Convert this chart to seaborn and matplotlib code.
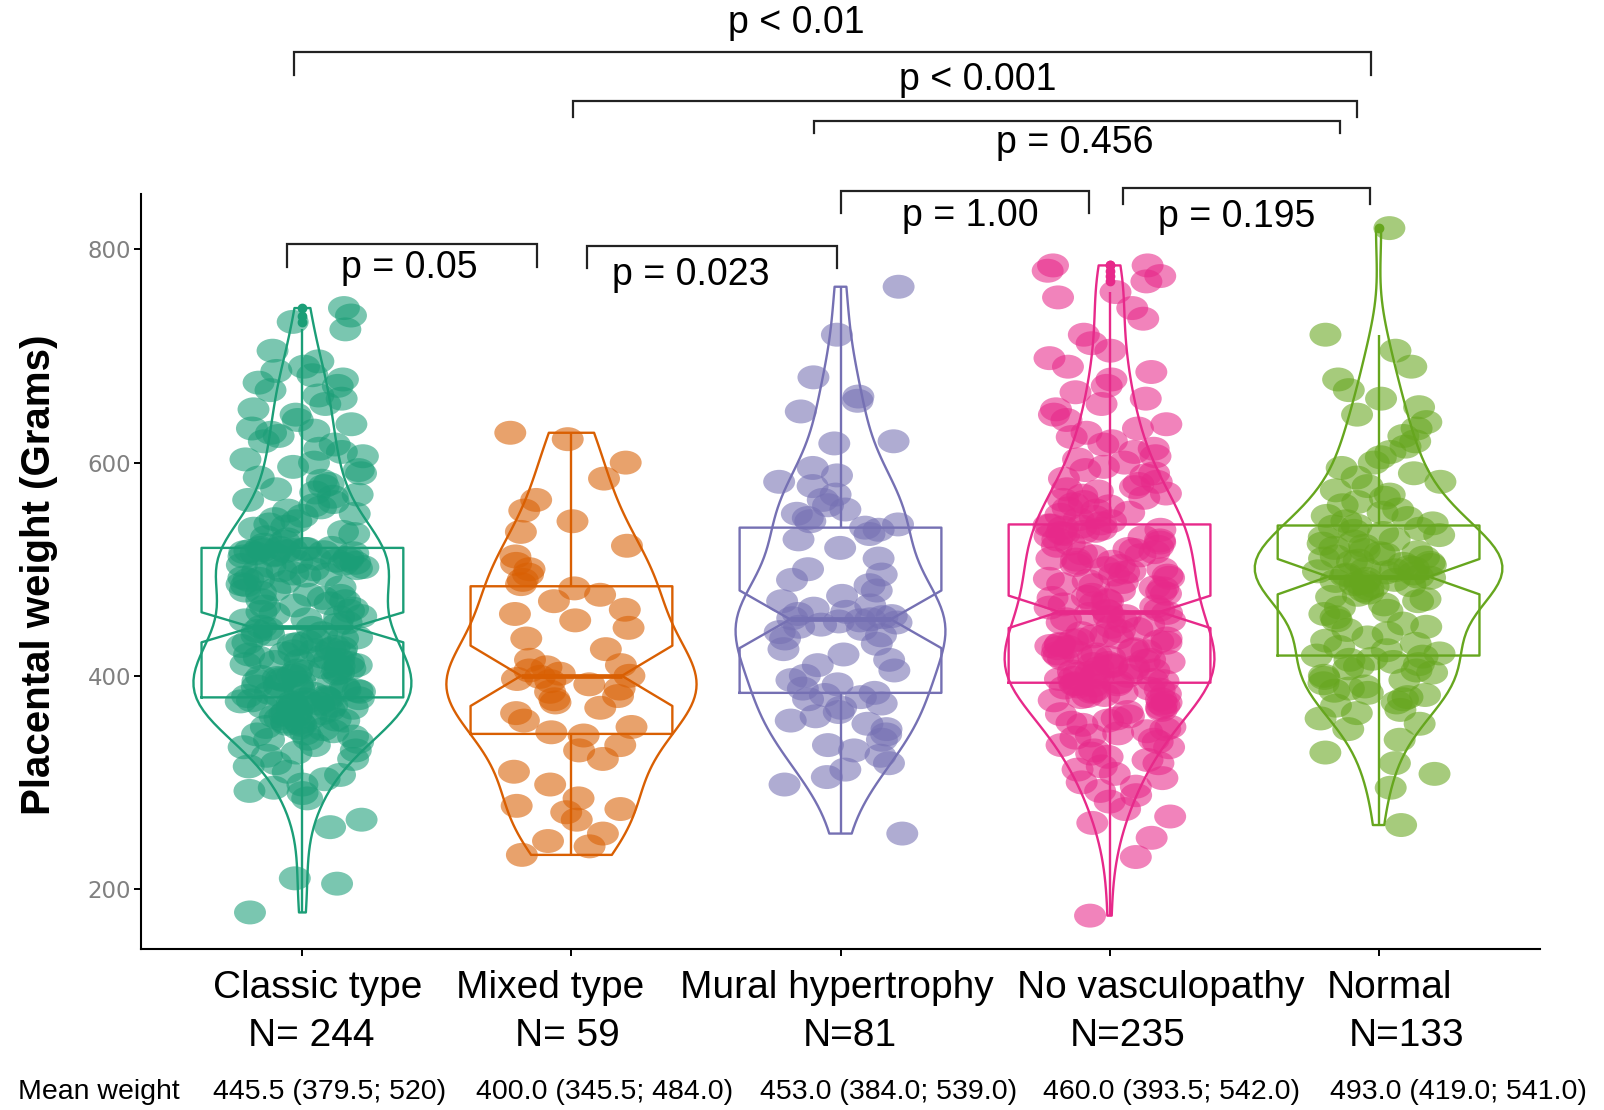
import numpy as np
import pandas as pd
import matplotlib
matplotlib.use("Agg")
import matplotlib.pyplot as plt
import seaborn as sns
from matplotlib.markers import MarkerStyle
from matplotlib.transforms import Affine2D

# ---------------- data ----------------
categories = ["Classic type", "Mixed type", "Mural hypertrophy", "No vasculopathy", "Normal"]
n_labels = ["N= 244", "N= 59", "N=81", "N=235", "N=133"]
mean_title = "Mean weight"
mean_labels = ["445.5 (379.5; 520)", "400.0 (345.5; 484.0)", "453.0 (384.0; 539.0)",
               "460.0 (393.5; 542.0)", "493.0 (419.0; 541.0)"]
palette = ["#1B9E77", "#D95F02", "#7570B3", "#E7298A", "#66A61E"]
y_label = "Placental weight (Grams)"
y_ticks = [200, 400, 600, 800]

classic = [178, 205, 210, 258, 265, 285, 290, 292, 295, 298, 303, 307, 310, 315, 318,
           322, 325, 328, 330, 333, 335, 338, 340, 341, 343, 345, 346, 348, 350, 351,
           352, 354, 355, 356, 357, 358, 359, 360, 361, 362, 363, 364, 365, 366, 367,
           368, 369, 370, 371, 372, 372, 373, 374, 375, 375, 376, 377, 378, 378, 379, 379,
           380, 381, 382, 383, 384, 385, 386, 387, 388, 389, 390, 391, 392, 393, 394,
           395, 396, 397, 398, 399, 400, 401, 402, 403, 404, 405, 406, 407, 408, 409,
           410, 411, 412, 413, 414, 415, 416, 417, 418, 420, 421, 422, 423, 424, 425,
           426, 427, 428, 429, 430, 431, 432, 434, 435, 436, 438, 439, 440, 442, 444, 445,
           446, 448, 450, 452, 453, 455, 456, 458, 460, 461, 463, 465, 466, 468, 470,
           471, 473, 475, 476, 478, 480, 481, 483, 485, 486, 488, 490, 491, 492, 494,
           495, 496, 498, 499, 500, 501, 502, 503, 504, 505, 506, 507, 508, 509, 510,
           511, 512, 513, 514, 515, 515, 516, 516, 517, 517, 518, 518, 519, 519, 520, 520,
           520, 523, 526, 528, 530, 533, 535, 538, 540, 542, 545, 547, 550, 552, 555,
           558, 560, 563, 565, 568, 570, 572, 575, 578, 580, 583, 586, 590, 593, 596,
           600, 603, 606, 610, 613, 617, 620, 625, 628, 630, 632, 636, 640, 645, 650,
           655, 660, 663, 668, 672, 675, 678, 682, 686, 690, 695, 705, 725, 732, 738, 745]

mixed = [232, 240, 245, 252, 265, 272, 275, 278, 285, 298, 310, 322, 330, 335, 344,
         347, 352, 358, 365, 370, 375, 378, 381, 385, 388, 392, 395, 397, 399, 400,
         402, 405, 408, 410, 415, 425, 435, 445, 452, 458, 462, 470, 476, 482,
         486, 490, 495, 500, 505, 512, 522, 535, 545, 555, 565, 585, 600, 622, 628]

mural = [252, 298, 305, 312, 318, 325, 330, 335, 340, 345, 350, 355, 358, 362, 366,
         370, 374, 378, 380, 382, 384,
         388, 392, 396, 400, 405, 410, 415, 420, 425, 430, 435, 438, 441, 444, 446,
         448, 450, 451, 452, 453,
         454, 455, 456, 458, 460, 463, 466, 470, 475, 480, 485, 490, 495, 500, 510,
         520, 528, 533, 537, 539,
         542, 545, 548, 552, 556, 560, 565, 570, 578, 582, 588, 595, 618, 620, 648,
         658, 662, 680, 720, 765]

no_vasc = [175, 230, 248, 262, 268, 275, 282, 288, 292, 296, 300, 304, 308, 312, 315,
           318, 321, 324, 327, 330, 333, 335, 338, 340, 342, 344, 346, 348, 350, 352,
           354, 356, 358, 360, 362, 364, 366, 368, 370, 372, 374, 375, 377, 378, 380,
           381, 382, 383, 384, 385, 386, 387, 388, 389, 390, 391, 392, 392, 393,
           394, 395, 396, 397, 398, 399, 400, 401, 402, 403, 404, 405, 406, 407, 408,
           409, 410, 411, 412, 413, 414, 415, 416, 417, 418, 419, 420, 421, 422, 423,
           424, 425, 426, 427, 428, 429, 430, 431, 432, 433, 434, 435, 436, 437, 438,
           440, 442, 444, 446, 448, 450, 451, 452, 453, 455, 456, 458, 459, 460,
           461, 462, 464, 465, 467, 468, 470, 471, 473, 474, 476, 477, 479, 480, 482,
           483, 485, 486, 488, 489, 491, 492, 494, 495, 497, 498, 500, 501, 503, 504,
           506, 507, 509, 510, 512, 513, 515, 516, 518, 519, 521, 522, 524, 525, 527,
           528, 530, 531, 533, 534, 535, 536, 537, 538, 539, 540, 541, 541,
           543, 545, 547, 549, 551, 553, 555, 557, 559, 561, 563, 565, 567, 569, 571,
           573, 575, 577, 580, 582, 585, 588, 590, 593, 596, 600, 603, 606, 610, 613,
           617, 620, 624, 628, 632, 636, 640, 645, 650, 655, 660, 666, 672, 678, 685,
           690, 698, 705, 712, 720, 735, 745, 755, 760, 770, 775, 780, 785, 785]

normal = [260, 295, 308, 318, 328, 340, 350, 355, 360, 365, 368, 372, 375, 378, 380,
          382, 384, 386, 388, 390, 393, 396, 398, 400, 403, 405, 407, 409, 411, 413,
          415, 416, 418, 419,
          421, 424, 427, 430, 433, 436, 440, 443, 446, 449, 452, 455, 458, 461, 464,
          467, 470, 472, 474, 476, 478, 480, 482, 484, 485, 486, 487, 488, 489, 490,
          491, 492, 493,
          494, 495, 496, 497, 498, 499, 500, 501, 502, 504, 505, 506, 507, 508, 510,
          511, 512, 514, 515, 516, 518, 520, 522, 524, 526, 528, 530, 532, 534, 536,
          538, 540, 541,
          543, 545, 548, 550, 553, 556, 560, 563, 567, 570, 574, 578, 582, 586, 590,
          595, 600, 605, 610, 615, 620, 625, 632, 638, 645, 652, 660, 668, 678, 690,
          705, 720, 820]

groups = [classic, mixed, mural, no_vasc, normal]

# significance annotations: (x_from, x_to, y_line, y_tick_end, label, text_x, text_y)
brackets = [
    (-0.03, 3.97, 985.4, 963.8, "p < 0.01", 1.837, 1003.0),
    (1.007, 3.919, 939.4, 924.4, "p < 0.001", 2.51, 950.0),
    (1.901, 3.858, 920.7, 909.4, "p = 0.456", 2.87, 890.5),
    (2.003, 2.923, 855.0, 834.4, "p = 1.00", 2.483, 822.0),
    (3.049, 3.969, 857.8, 842.8, "p = 0.195", 3.472, 821.0),
    (-0.057, 0.871, 805.3, 783.7, "p = 0.05", 0.398, 773.0),
    (1.057, 1.988, 803.4, 782.7, "p = 0.023", 1.443, 767.0),
]

# ---------------- figure ----------------
W, H = 1604, 1110
plt.rcParams["font.family"] = ["Liberation Sans", "DejaVu Sans"]
fig = plt.figure(figsize=(W / 100, H / 100), dpi=100)
ax = fig.add_axes([141 / W, 1 - 949 / H, (1540 - 141) / W, (949 - 194) / H])

df = pd.DataFrame({
    "group": np.repeat(categories, [len(g) for g in groups]),
    "weight": np.concatenate([np.asarray(g, float) for g in groups]),
})

violin_widths = [0.81, 0.93, 0.78, 0.78, 0.92]
for i, cat in enumerate(categories):
    sub = df[df["group"] == cat]
    sns.violinplot(data=sub, x="group", y="weight", order=categories,
                   color=palette[i], fill=False, inner=None, cut=0,
                   density_norm="width", width=violin_widths[i], linewidth=1.7,
                   bw_method="silverman", bw_adjust=0.85, ax=ax)

sns.boxplot(data=df, x="group", y="weight", hue="group", order=categories,
            hue_order=categories, palette=palette, fill=False, notch=True,
            width=0.75, linewidth=1.7, showcaps=False, whis=1.5,
            medianprops={"linewidth": 3.4},
            flierprops={"marker": "o", "markersize": 6},
            legend=False, ax=ax)
for ln in ax.lines:
    if ln.get_marker() not in (None, "None", "", " "):
        ln.set_markerfacecolor(ln.get_markeredgecolor())

np.random.seed(7)
oval = MarkerStyle("o", transform=Affine2D().scale(1.0, 0.75))
sns.stripplot(data=df, x="group", y="weight", hue="group", order=categories,
              hue_order=categories, palette=palette, jitter=0.23, size=23,
              marker=oval, alpha=0.58, linewidth=0, legend=False, zorder=3, ax=ax)

ax.set_xlim(-0.6, 4.6)
ax.set_ylim(143.7, 852)
ax.set_yticks(y_ticks)
ax.set_yticklabels([str(t) for t in y_ticks])
ax.set_xticks(range(len(categories)))
ax.set_xticklabels([""] * len(categories))
ax.set_xlabel("")
ax.set_ylabel("")
for s in ["top", "right"]:
    ax.spines[s].set_visible(False)
for s in ["left", "bottom"]:
    ax.spines[s].set_linewidth(1.5)
    ax.spines[s].set_color("black")
ax.tick_params(axis="both", length=5, width=1.4, color="black")
ax.tick_params(axis="y", pad=2, labelsize=16.5, labelcolor="#808080")
for lbl in ax.get_yticklabels():
    lbl.set_fontfamily("DejaVu Sans")

# brackets
for x1, x2, yl, yt, lab, tx, ty in brackets:
    ax.plot([x1, x1, x2, x2], [yt, yl, yl, yt], color="#222222", lw=1.6,
            clip_on=False, solid_joinstyle="miter")
    ax.text(tx, ty, lab, ha="center", va="baseline", fontsize=27, color="black",
            clip_on=False)

# y label
fig.text(39 / W, 1 - 575 / H, y_label, rotation=90, ha="center", va="center",
         fontsize=29, fontweight="bold")

# x labels (two lines) and mean weights
line1_x = [318, 550, 837, 1161, 1389]
line2_x = [311, 567, 850, 1128, 1407]
for i in range(len(categories)):
    fig.text(line1_x[i] / W, 1 - 998 / H, categories[i], ha="center", va="baseline",
             fontsize=28)
    fig.text(line2_x[i] / W, 1 - 1046 / H, n_labels[i], ha="center", va="baseline",
             fontsize=28)

fig.text(18 / W, 1 - 1099 / H, mean_title, ha="left", va="baseline", fontsize=20.5)
mean_x = [213, 476, 760, 1043, 1330]
for i, t in enumerate(mean_labels):
    fig.text(mean_x[i] / W, 1 - 1099 / H, t, ha="left", va="baseline", fontsize=20.5)

fig.savefig("out.png", dpi=100)
